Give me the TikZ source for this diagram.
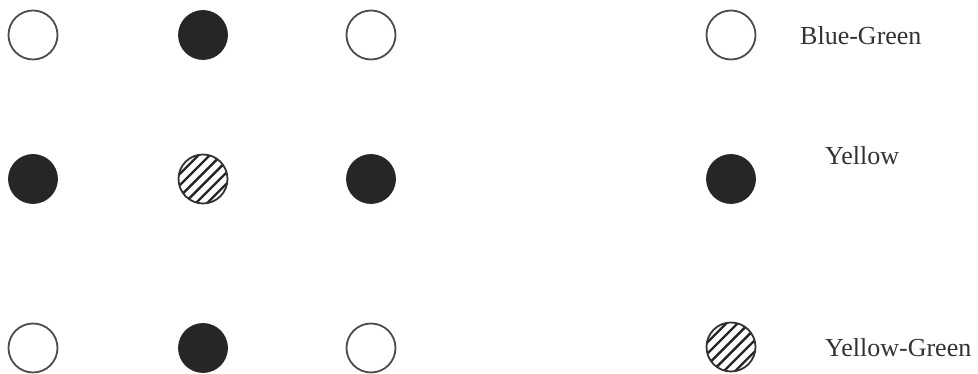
\documentclass[tikz,border=0pt]{standalone}
\usepackage{fontspec}
\setmainfont{Liberation Serif}
\begin{document}
\begin{tikzpicture}[x=1pt,y=1pt,
  dot/.style={circle, minimum size=49pt, inner sep=0pt},
  opendot/.style={dot, draw=black!70, line width=1.8pt, fill=white},
  darkdot/.style={dot, fill=black!85, draw=black!85, line width=0.8pt},
  hatchdot/.style={dot, draw=black!80, line width=1.8pt,
    path picture={
      \begin{scope}[shift={(path picture bounding box.center)}]
        \foreach \k in {-3,...,2}{
          \draw[black!85, line width=2.4pt]
            ({(\k+0.5)*8*(-0.7071)-40*0.7071},{(\k+0.5)*8*0.7071-40*0.7071}) --
            ({(\k+0.5)*8*(-0.7071)+40*0.7071},{(\k+0.5)*8*0.7071+40*0.7071});
        }
      \end{scope}
    }},
  lbl/.style={anchor=base west, inner sep=0pt, text=black!80, font=\fontsize{26}{30}\selectfont}
]
\useasboundingbox[fill=white] (0,0) rectangle (978,374);
% grid
\node[opendot]  (a1) at (33,339) {};
\node[darkdot]  (a2) at (203,339) {};
\node[opendot]  (a3) at (371,339) {};
\node[darkdot]  (b1) at (33,195) {};
\node[hatchdot] (b2) at (203,195) {};
\node[darkdot]  (b3) at (371,195) {};
\node[opendot]  (c1) at (33,26) {};
\node[darkdot]  (c2) at (203,26) {};
\node[opendot]  (c3) at (371,26) {};
% legend
\node[opendot]  (l1) at (731,339) {};
\node[darkdot]  (l2) at (731,195) {};
\node[hatchdot] (l3) at (731,27) {};
\node[lbl] (t1) at (800,329) {Blue-Green};
\node[lbl] (t2) at (825,209) {Yellow};
\node[lbl] (t3) at (825,17) {Yellow-Green};
\end{tikzpicture}
\end{document}
